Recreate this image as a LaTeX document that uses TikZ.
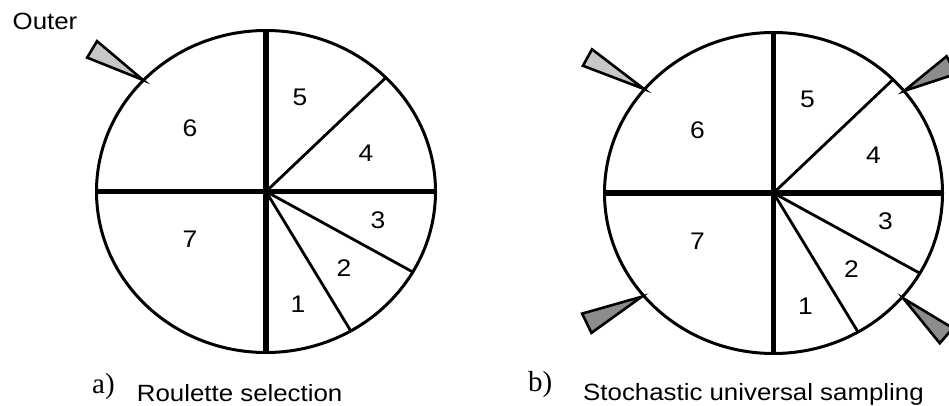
\documentclass[tikz,border=0pt]{standalone}
\usepackage{fontspec}
\setmainfont{Liberation Serif}
\newfontfamily\wheelfont{Liberation Sans}[FakeStretch=1.1]

\colorlet{lightneedle}{black!22}
\colorlet{darkneedle}{black!45}

% a needle: tip on the rim, pointing outwards at the given angle
\newcommand{\drawneedle}[5]{%
  \filldraw[needle, fill=#5, shift={#1}, rotate=#2] (0,0) -- (#3,#4) -- (#3,-#4) -- cycle;}

\begin{document}
\begin{tikzpicture}[x=1pt, y=1pt,
    rim/.style={line width=3pt},
    axis/.style={line width=5.5pt},
    spoke/.style={line width=2.8pt},
    num/.style={font=\wheelfont\fontsize{24}{24}\selectfont},
    caption/.style={font=\wheelfont\fontsize{23.5}{23.5}\selectfont, anchor=base west, inner sep=0pt},
    tag/.style={font=\fontsize{29}{29}\selectfont, anchor=base west, inner sep=0pt},
    needle/.style={draw, line width=2.6pt, line join=miter}]
    \clip (0,0) rectangle (949,405);

    % the two wheels, slices 1..7
    \foreach \w/\cx/\cy/\rx/\ry in {a/266/213.5/169.5/161, b/773.5/212/169/160.5} {
        \begin{scope}[shift={(\cx,\cy)}]
            \draw[rim] (0,0) ellipse [x radius=\rx, y radius=\ry];
            \foreach \ang in {45,-30,-60}
                \draw[spoke] (0,0) -- ({\rx*cos(\ang)},{\ry*sin(\ang)});
            \draw[axis] (-\rx,0) -- (\rx,0);
            \draw[axis] (0,\ry) -- (0,-\ry);
            \foreach \n/\dx/\dy in {1/32/-113, 2/78/-76.5, 3/112/-28.5, 4/100/38, 5/34/94, 6/-76/63, 7/-76/-48}
                \node[num] (\w-\n) at (\dx,\dy) {\n};
        \end{scope}
    }

    % needles
    \drawneedle{(143,325)}{149}{59.4}{9.6}{lightneedle}
    \drawneedle{(644,316)}{150.9}{64.7}{9.4}{lightneedle}
    \drawneedle{(641.7,108.3)}{205.8}{61}{10.7}{darkneedle}
    \drawneedle{(904,314)}{28.7}{54}{10}{darkneedle}
    \drawneedle{(903.3,106.7)}{-41}{57}{10}{darkneedle}

    \node[caption] (outer) at (12.5,375) {Outer};
    \node[tag] (a-tag) at (92,11.7) {a)};
    \node[caption] (a-title) at (136.7,3.3) {Roulette selection};
    \node[tag] (b-tag) at (528,13.3) {b)};
    \node[caption] (b-title) at (583,5) {Stochastic universal sampling};
\end{tikzpicture}
\end{document}
